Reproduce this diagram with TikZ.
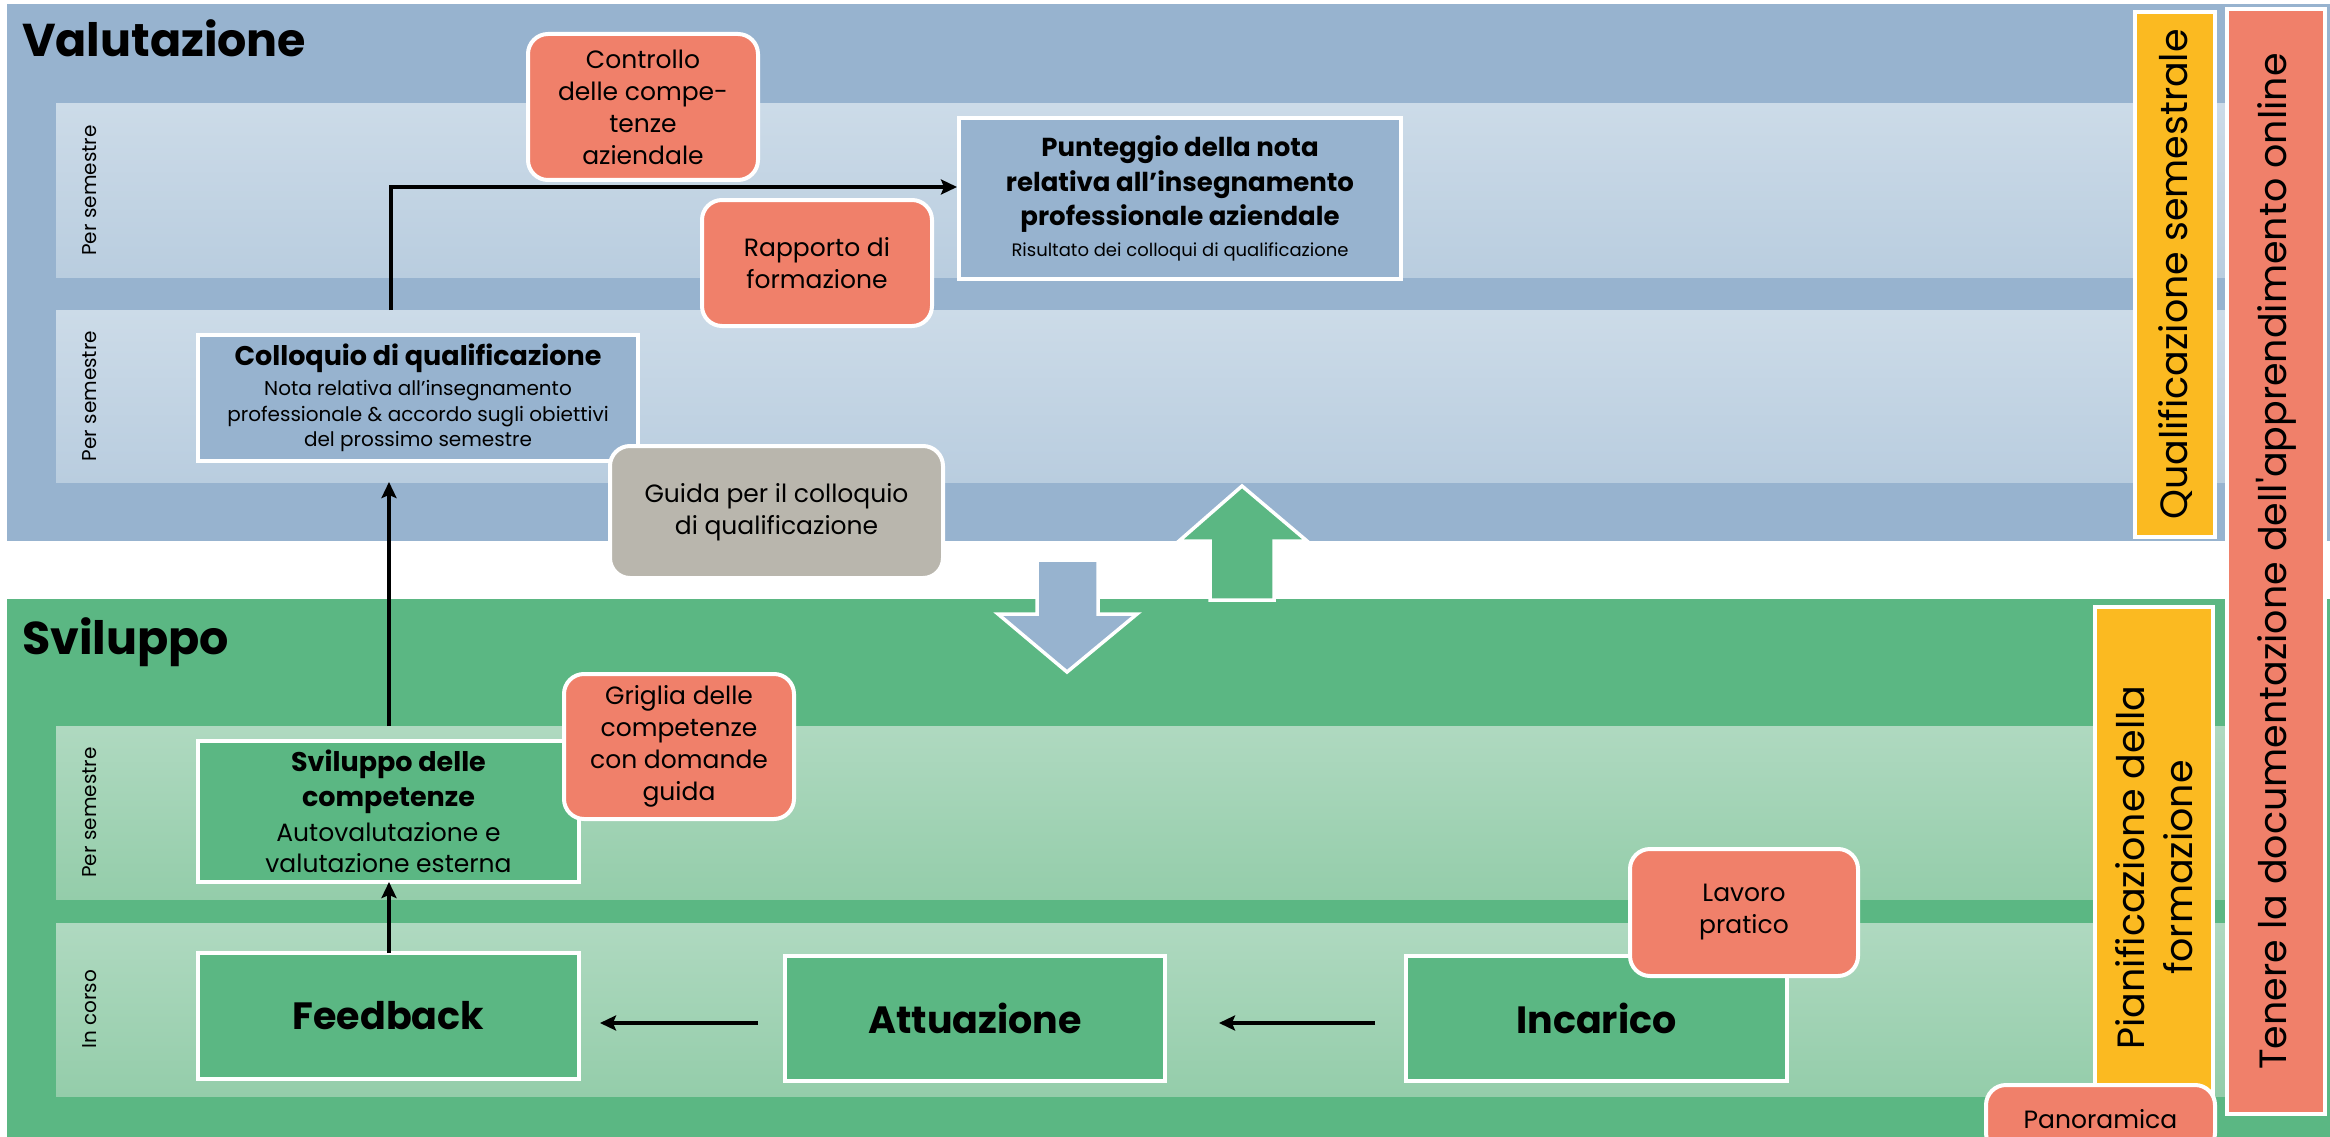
\documentclass[tikz,border=0pt]{standalone}
\usepackage{fontspec}
\setmainfont{Poppins}[Ligatures=TeXOff]
\usetikzlibrary{arrows.meta}
\definecolor{pblue}{HTML}{97B3CF}
\definecolor{lblueT}{HTML}{CCDBE8}
\definecolor{lblueB}{HTML}{B9CDDF}
\definecolor{pgreen}{HTML}{5BB783}
\definecolor{lgreenT}{HTML}{AFD9C0}
\definecolor{lgreenB}{HTML}{94CDAA}
\definecolor{salmon}{HTML}{F0806A}
\definecolor{gold}{HTML}{FBBA21}
\definecolor{stone}{HTML}{B9B6AD}
\newcommand\fs[2]{\fontsize{#1}{#2}\selectfont}
\begin{document}
\begin{tikzpicture}[x=1pt,y=-1pt,
  every node/.style={inner sep=0pt, outer sep=0pt},
  panel/.style={rectangle, anchor=north west},
  bluelane/.style={rectangle, anchor=north west, top color=lblueT, bottom color=lblueB, minimum width=2169},
  greenlane/.style={rectangle, anchor=north west, top color=lgreenT, bottom color=lgreenB, minimum width=2169},
  lanelbl/.style={rotate=90, font=\fs{20}{24}},
  title/.style={anchor=base west, font=\fs{46}{46}\bfseries},
  box/.style={rectangle, anchor=north west, draw=white, line width=4pt, align=center},
  note/.style={box, rounded corners=20pt, fill=salmon, font=\fs{25}{32}},
  bar/.style={rectangle, rotate=90, draw=white, line width=4pt, font=\fs{38}{48}, align=center},
  flow/.style={line width=4pt, -{Stealth[length=16pt,width=15pt,inset=3pt]}},
  blockarrow/.style={draw=white, line width=3.5pt, line join=miter}
]
\useasboundingbox (0,0) rectangle (2330,1137);
% panels
\node[panel, fill=pblue, minimum width=2323, minimum height=537] (valut) at (7,4) {};
\node[panel, fill=pgreen, minimum width=2323, minimum height=560] (svpanel) at (7,599) {};
% lanes
\node[bluelane, minimum height=173] (lane1) at (56,104) {};
\node[bluelane, minimum height=172] (lane2) at (56,310) {};
\node[greenlane, minimum height=173] (lane3) at (56,726) {};
\node[greenlane, minimum height=173] (lane4) at (56,923) {};
\node[lanelbl] (l1) at (90,190.5) {Per semestre};
\node[lanelbl] (l2) at (90,396) {Per semestre};
\node[lanelbl] (l3) at (90,812.5) {Per semestre};
\node[lanelbl] (l4) at (90,1009.5) {In corso};
% titles
\node[title] (tval) at (22,57) {Valutazione};
\node[title] (tsvi) at (22,654) {Sviluppo};
% main boxes
\node[box, fill=pblue, minimum width=440, minimum height=126, font=\fs{20}{25.5}] (coll) at (198,335)
  {{\fs{27}{27}\bfseries Colloquio di qualificazione}\\[4.5pt]
   Nota relativa all’insegnamento\\ professionale \& accordo sugli obiettivi\\ del prossimo semestre};
\node[box, fill=pblue, minimum width=442, minimum height=161, font=\fs{26}{34.5}\bfseries] (punt) at (959,118)
  {Punteggio della nota\\ relativa all’insegnamento\\ professionale aziendale\\[-3.5pt]
   {\mdseries\fs{18}{18}Risultato dei colloqui di qualificazione}};
\node[box, fill=pgreen, minimum width=381, minimum height=141, font=\fs{25}{31}] (svil) at (198,741)
  {{\fs{27}{27}\bfseries Sviluppo delle}\\[4pt] {\fs{27}{27}\bfseries competenze}\\[4pt]
   Autovalutazione e\\ valutazione esterna};
\node[box, fill=pgreen, minimum width=381, minimum height=126, font=\fs{38}{38}\bfseries] (feed) at (198,953) {Feedback};
\node[box, fill=pgreen, minimum width=380, minimum height=125, font=\fs{38}{38}\bfseries] (attu) at (785,956) {Attuazione};
\node[box, fill=pgreen, minimum width=381, minimum height=125, font=\fs{38}{38}\bfseries] (inc) at (1406,956) {Incarico};
% connectors
\coordinate (bendx) at (391,0);
\coordinate (spine) at (389,0);
\coordinate (row) at (0,1023);
\draw[flow, shorten >=2pt] (bendx |- lane2.north) |- ([yshift=11.5pt]punt.west);
\draw[flow] (spine |- lane3.north) -- (spine |- lane2.south);
\draw[flow] (spine |- feed.north) -- (spine |- svil.south);
\coordinate (a1) at ([xshift=-27pt]attu.west);
\coordinate (f1) at ([xshift=21pt]feed.east);
\coordinate (i1) at ([xshift=-31pt]inc.west);
\coordinate (a2) at ([xshift=54pt]attu.east);
\draw[flow] (a1 |- row) -- (f1 |- row);
\draw[flow] (i1 |- row) -- (a2 |- row);
% notes
\node[note, minimum width=230, minimum height=146] (ctrl) at (528,34) {Controllo\\ delle compe-\\ tenze\\ aziendale};
\node[note, minimum width=230, minimum height=126] (rapp) at (702,200) {Rapporto di\\ formazione};
\node[note, fill=stone, minimum width=333, minimum height=132] (guida) at (610,446) {Guida per il colloquio\\ di qualificazione};
\node[note, minimum width=230, minimum height=145] (grig) at (564,674) {Griglia delle\\ competenze\\ con domande\\ guida};
\node[note, minimum width=228, minimum height=127, font=\fs{25}{32}] (lav) at (1630,849) {Lavoro\\ pratico};
% block arrows
\draw[blockarrow, fill=pblue] (1037,560) -- (1098,560) -- (1098,614) -- (1137,614) -- (1067,672) -- (998,614) -- (1037,614) -- cycle;
\draw[blockarrow, fill=pgreen] (1210,600) -- (1274,600) -- (1274,541) -- (1307,541) -- (1242,486) -- (1179,541) -- (1210,541) -- cycle;
% side bars
\node[bar, fill=gold, minimum width=525, minimum height=80] (qual) at (2175,274.5) {Qualificazione semestrale};
\node[bar, fill=gold, minimum width=521, minimum height=118] (pian) at (2154,867.5) {Pianificazione della\\ formazione};
\node[bar, fill=salmon, minimum width=1105, minimum height=98] (doc) at (2276,561.5) {Tenere la documentazione dell'apprendimento online};
\node[note, minimum width=229, minimum height=68, font=\fs{25}{25}] (pano) at (1986,1085) {Panoramica};
\end{tikzpicture}
\end{document}
